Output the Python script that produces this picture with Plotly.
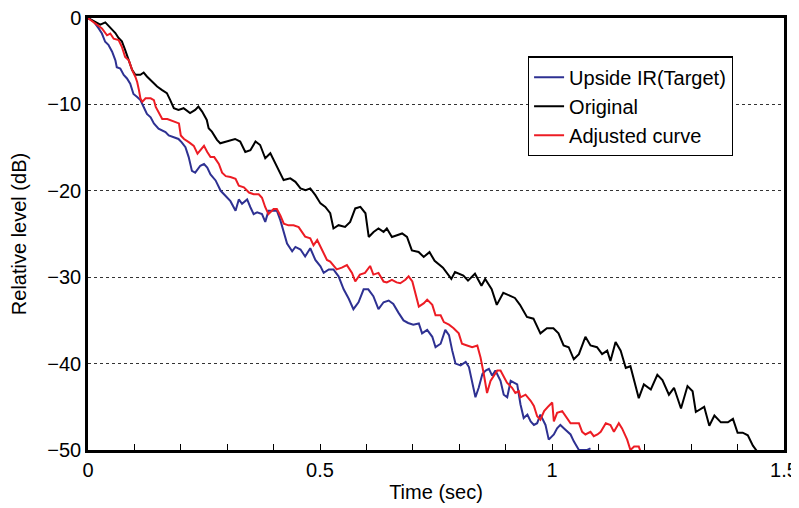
import plotly.graph_objects as go

# Original (black)
t_orig = [0, 0.0265, 0.0373, 0.048, 0.059, 0.066, 0.073, 0.080, 0.0875, 0.095, 0.102, 0.113, 0.120, 0.127,
          0.138, 0.149, 0.159, 0.170, 0.177, 0.185, 0.195, 0.206, 0.220, 0.231, 0.238, 0.246, 0.256, 0.260,
          0.267, 0.278, 0.285, 0.300, 0.317, 0.328, 0.339, 0.350, 0.361, 0.371, 0.382, 0.393, 0.404, 0.414,
          0.4216, 0.436, 0.447, 0.458, 0.469, 0.479, 0.490, 0.501, 0.5115, 0.522, 0.529, 0.540, 0.554, 0.565,
          0.576, 0.587, 0.598, 0.605, 0.6155, 0.626, 0.637, 0.644, 0.655, 0.666, 0.677, 0.6875, 0.698, 0.7125,
          0.7235, 0.736, 0.747, 0.765, 0.783, 0.791, 0.809, 0.819, 0.834, 0.848, 0.856, 0.870, 0.881, 0.895,
          0.910, 0.920, 0.931, 0.946, 0.960, 0.975, 0.989, 1.003, 1.014, 1.025, 1.036, 1.047, 1.058, 1.072,
          1.083, 1.097, 1.108, 1.119, 1.126, 1.137, 1.148, 1.159, 1.169, 1.187, 1.198, 1.213, 1.227, 1.238,
          1.252, 1.263, 1.278, 1.292, 1.303, 1.310, 1.328, 1.339, 1.350, 1.364, 1.379, 1.390, 1.400, 1.411,
          1.422, 1.433, 1.444]
db_orig = [0, -0.78, -0.51, -1.16, -1.74, -2.32, -2.71, -3.68, -4.84, -6.0, -6.58, -6.58, -6.31, -6.77,
           -7.35, -7.93, -8.32, -8.70, -9.48, -10.44, -10.64, -10.44, -11.0, -10.64, -10.25, -10.83, -11.8, -12.76,
           -13.15, -14.1, -14.5, -14.3, -14.0, -14.3, -15.5, -15.3, -14.3, -14.7, -16.24, -15.66, -16.82, -17.8,
           -18.76, -18.56, -18.96, -19.72, -19.92, -19.72, -20.5, -21.46, -21.86, -22.6, -24.36, -23.98, -24.18, -23.6,
           -22.04, -21.86, -22.6, -25.34, -24.76, -24.36, -24.76, -24.36, -25.34, -25.14, -24.94, -25.34, -26.9, -27.08,
           -27.66, -27.1, -28.1, -28.9, -30.2, -29.4, -29.8, -30.4, -29.6, -31.0, -30.2, -31.4, -33.2, -31.8,
           -32.2, -32.4, -33.2, -34.6, -34.8, -36.5, -35.9, -35.9, -36.5, -37.9, -38.1, -39.5, -38.9, -36.9,
           -37.9, -38.1, -38.9, -38.5, -39.7, -37.5, -38.5, -40.5, -40.3, -44.0, -42.4, -43.0, -41.3, -41.9,
           -43.6, -42.8, -45.2, -42.6, -43.2, -45.6, -45.0, -47.2, -46.0, -46.8, -46.8, -46.4, -48.0, -48.0,
           -48.3, -49.5, -50.3]

# Adjusted curve (red)
t_adj = [0, 0.0158, 0.030, 0.041, 0.048, 0.0553, 0.066, 0.073, 0.080, 0.088, 0.095, 0.102, 0.106, 0.110,
         0.113, 0.117, 0.124, 0.135, 0.142, 0.146, 0.153, 0.160, 0.171, 0.182, 0.189, 0.196, 0.200, 0.207,
         0.218, 0.228, 0.236, 0.243, 0.250, 0.257, 0.264, 0.272, 0.282, 0.289, 0.297, 0.307, 0.318, 0.325,
         0.336, 0.347, 0.357, 0.368, 0.375, 0.382, 0.389, 0.400, 0.407, 0.4145, 0.422, 0.432, 0.443, 0.454,
         0.461, 0.468, 0.479, 0.486, 0.494, 0.501, 0.508, 0.515, 0.522, 0.529, 0.536, 0.547, 0.558, 0.569,
         0.576, 0.586, 0.597, 0.608, 0.615, 0.626, 0.637, 0.644, 0.655, 0.665, 0.673, 0.684, 0.691, 0.699,
         0.706, 0.713, 0.724, 0.731, 0.742, 0.749, 0.760, 0.767, 0.778, 0.788, 0.799, 0.806, 0.817, 0.828,
         0.839, 0.846, 0.853, 0.860, 0.8675, 0.875, 0.882, 0.889, 0.896, 0.903, 0.914, 0.921, 0.9285, 0.932,
         0.943, 0.954, 0.961, 0.968, 0.975, 0.983, 0.993, 1.0005, 1.004, 1.011, 1.022, 1.033, 1.040, 1.047,
         1.058, 1.065, 1.072, 1.083, 1.090, 1.098, 1.105, 1.116, 1.126, 1.1335, 1.144, 1.151, 1.162, 1.169,
         1.177, 1.187, 1.191]
db_adj = [0, -0.62, -1.2, -2.0, -1.8, -2.4, -2.56, -3.33, -4.5, -4.9, -6.0, -6.8, -7.4, -8.4,
          -9.3, -9.7, -9.3, -9.3, -9.5, -10.3, -11.1, -11.7, -11.7, -11.9, -12.1, -12.2, -13.6, -14.0,
          -14.4, -14.8, -15.7, -15.3, -14.8, -15.5, -16.1, -16.1, -16.9, -17.9, -18.3, -18.4, -18.6, -19.4,
          -19.6, -20.2, -20.4, -20.4, -20.8, -21.9, -22.7, -22.1, -22.1, -22.85, -23.8, -24.0, -24.0, -24.2,
          -24.75, -25.3, -25.5, -26.3, -25.7, -26.5, -27.2, -28.0, -28.2, -28.6, -29.1, -28.9, -28.6, -29.5,
          -30.5, -29.7, -29.5, -28.7, -29.7, -29.5, -30.5, -30.6, -30.3, -30.6, -30.7, -30.3, -29.9, -30.5,
          -32.0, -33.4, -33.0, -32.6, -33.2, -34.4, -34.4, -35.2, -35.5, -35.9, -36.5, -37.7, -37.9, -38.1,
          -37.9, -39.3, -41.2, -43.4, -42.0, -41.4, -40.8, -40.8, -41.6, -42.2, -42.8, -43.4, -43.2, -43.9,
          -43.6, -44.3, -44.9, -46.1, -46.5, -45.5, -44.9, -44.5, -46.7, -45.7, -45.5, -46.3, -46.9, -46.9,
          -46.9, -47.9, -48.2, -47.9, -48.4, -48.2, -47.9, -46.9, -47.1, -47.9, -46.9, -47.5, -48.8, -50.0,
          -49.6, -49.6, -50.2]

# Upside IR (Target) (blue)
t_tgt = [0, 0.012, 0.023, 0.030, 0.037, 0.044, 0.052, 0.059, 0.062, 0.0696, 0.077, 0.084, 0.091, 0.098,
         0.106, 0.113, 0.120, 0.127, 0.135, 0.142, 0.152, 0.160, 0.167, 0.174, 0.184, 0.195, 0.202, 0.210,
         0.217, 0.224, 0.231, 0.242, 0.250, 0.257, 0.264, 0.275, 0.286, 0.297, 0.307, 0.318, 0.325, 0.332,
         0.343, 0.350, 0.357, 0.3645, 0.375, 0.382, 0.389, 0.400, 0.407, 0.4145, 0.422, 0.429, 0.440, 0.447,
         0.458, 0.468, 0.479, 0.490, 0.501, 0.508, 0.519, 0.529, 0.540, 0.551, 0.562, 0.572, 0.583, 0.594,
         0.604, 0.615, 0.626, 0.637, 0.648, 0.658, 0.669, 0.680, 0.690, 0.701, 0.713, 0.720, 0.731, 0.742,
         0.749, 0.760, 0.770, 0.778, 0.785, 0.792, 0.803, 0.814, 0.821, 0.828, 0.835, 0.842, 0.850, 0.857,
         0.864, 0.871, 0.878, 0.889, 0.896, 0.9035, 0.911, 0.918, 0.925, 0.932, 0.939, 0.947, 0.954, 0.961,
         0.968, 0.975, 0.986, 0.993, 1.004, 1.011, 1.018, 1.026, 1.033, 1.040, 1.047, 1.058, 1.065, 1.076,
         1.083]
db_tgt = [0, -0.4, -1.2, -1.8, -2.75, -3.1, -3.9, -4.9, -5.7, -5.85, -6.6, -7.0, -7.6, -8.8,
          -9.15, -9.5, -10.3, -11.1, -11.5, -12.2, -12.8, -13.0, -13.2, -13.6, -13.8, -14.0, -14.4, -14.96,
          -16.1, -17.7, -17.9, -17.1, -16.9, -17.3, -18.1, -18.8, -20.0, -20.6, -21.2, -22.3, -21.0, -21.5,
          -21.0, -21.9, -22.7, -22.5, -22.7, -23.6, -22.3, -22.3, -22.3, -23.4, -24.9, -26.1, -27.0, -26.5,
          -26.8, -27.6, -26.65, -28.0, -28.75, -29.5, -29.1, -29.1, -29.9, -31.4, -32.5, -33.7, -32.9, -31.4,
          -31.4, -32.2, -33.7, -32.9, -32.7, -33.1, -34.1, -35.0, -35.3, -35.5, -35.35, -36.5, -36.1, -36.9,
          -38.1, -37.7, -36.1, -36.7, -38.5, -40.0, -40.2, -39.8, -40.4, -42.0, -43.9, -42.8, -41.2, -40.8,
          -40.6, -41.4, -40.8, -42.0, -43.6, -43.9, -42.0, -42.2, -42.4, -44.7, -46.3, -45.9, -46.7, -47.1,
          -46.9, -45.9, -47.1, -48.8, -48.2, -47.5, -47.1, -47.5, -47.9, -48.2, -49.0, -50.0, -50.0, -50.0,
          -49.8]

x_ticks = [0, 0.5, 1, 1.5]
x_labels = ["0", "0.5", "1", "1.5"]
y_ticks = [0, -10, -20, -30, -40, -50]

FONT = "Liberation Sans, Arial, Helvetica, sans-serif"
FS = 20

fig = go.Figure()
fig.add_trace(go.Scatter(x=t_tgt, y=db_tgt, mode="lines", name="Upside IR(Target)",
                         line=dict(color="#2E3192", width=2)))
fig.add_trace(go.Scatter(x=t_orig, y=db_orig, mode="lines", name="Original",
                         line=dict(color="#000000", width=2)))
fig.add_trace(go.Scatter(x=t_adj, y=db_adj, mode="lines", name="Adjusted curve",
                         line=dict(color="#ED1C24", width=2)))

fig.update_layout(
    width=791, height=500,
    margin=dict(l=80, r=15, t=10, b=58, autoexpand=False),
    paper_bgcolor="white", plot_bgcolor="white",
    font=dict(family=FONT, size=FS, color="black"),
    showlegend=True,
    legend=dict(x=0.632, y=0.911, xanchor="left", yanchor="top",
                bordercolor="black", borderwidth=1.2, bgcolor="white",
                font=dict(family=FONT, size=FS, color="black"),
                itemwidth=30, tracegroupgap=0,
                entrywidth=178, entrywidthmode="pixels"),
    xaxis=dict(range=[0, 1.5], tickvals=x_ticks, ticktext=x_labels, automargin=False,
               ticks="inside", ticklen=6, tickcolor="black", ticklabeloverflow="allow",
               minor=dict(dtick=0.1, ticks="inside", ticklen=6, tickcolor="black"),
               showgrid=False, zeroline=False,
               showline=True, linecolor="black", linewidth=2.5, mirror=True,
               title=dict(text="Time (sec)", font=dict(size=FS), standoff=6)),
    yaxis=dict(range=[-50, 0], tickvals=y_ticks, automargin=False,
               ticks="", ticklabelstandoff=0, ticklabeloverflow="allow",
               showgrid=True, gridcolor="#333333", griddash="dot", gridwidth=1,
               zeroline=False,
               showline=True, linecolor="black", linewidth=2.5, mirror=True,
               title=dict(text="Relative level (dB)", font=dict(size=FS), standoff=16)),
)

fig.write_html("out.html")
